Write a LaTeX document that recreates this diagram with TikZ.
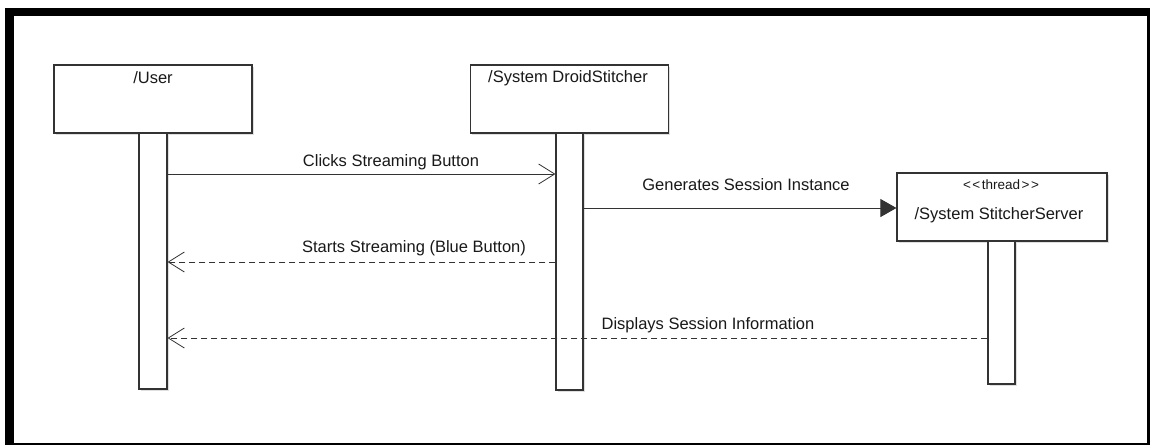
\documentclass[tikz,border=0pt]{standalone}
\usepackage{fontspec}
\setmainfont{Liberation Sans}
\usetikzlibrary{arrows.meta,shadows}
\definecolor{ink}{HTML}{333333}
\tikzset{
  umlbox/.style={draw=ink, line width=1.2pt, fill=white, inner sep=0pt,
    drop shadow={opacity=0.25, shadow xshift=1.5pt, shadow yshift=-1.5pt}},
  lbl/.style={inner sep=0pt, font=\fontsize{16.5}{19}\selectfont, text=black!90},
  small/.style={inner sep=0pt, font=\fontsize{13.5}{16}\selectfont, text=black!90},
  msg/.style={draw=ink, line width=1pt},
  reply/.style={msg, dash pattern=on 6pt off 4pt},
  openhead/.style={-{Straight Barb[length=16pt,width=20pt,line width=0.8pt]}},
  filledhead/.style={-{Triangle[length=16pt,width=18pt]}},
  frame/.style={fill=black, draw=none}
}
\begin{document}
\begin{tikzpicture}[x=1pt,y=-1pt]
\useasboundingbox (0,0) rectangle (1151,445);
\fill[white] (0,0) rectangle (1151,445);

% outer frame
\path[frame] (5,8) rectangle (1149.5,16);
\path[frame] (5,8) rectangle (14,445);
\path[frame] (1147,8) rectangle (1149.5,445);
\path[frame] (5,442.5) rectangle (1149.5,444.5);

% participants
\node[umlbox, minimum width=198pt, minimum height=68pt] (user) at (153,99) {};
\node[umlbox, minimum width=198pt, minimum height=68pt] (droid) at (569.5,99) {};
\node[umlbox, minimum width=210pt, minimum height=68pt] (server) at (1002,207) {};

\node[lbl] (userT) at (153,78) {/User};
\node[lbl] (droidT) at (568,78) {/System DroidStitcher};
\node[small] (serverS) at (1001,185) {<\kern1.5pt<\kern1.5pt thread\kern1.5pt>\kern1.5pt>};
\node[lbl] (serverT) at (999,215) {/System StitcherServer};

% activation bars
\node[umlbox, minimum width=28pt, minimum height=256pt] (ua) at (153,261) {};
\node[umlbox, minimum width=27pt, minimum height=257pt] (da) at (569.5,261.5) {};
\node[umlbox, minimum width=27pt, minimum height=143pt] (sa) at (1001.5,312.5) {};

% message rows
\coordinate (m1) at (0,174);
\coordinate (m2) at (0,208);
\coordinate (m3) at (0,262);
\coordinate (m4) at (0,338);

\draw[msg, openhead] (ua.east |- m1) -- (da.west |- m1);
\draw[msg, filledhead] (da.east |- m2) -- (server.west |- m2);
\draw[reply, openhead] (da.west |- m3) -- (ua.east |- m3);
\draw[reply, openhead] (sa.west |- m4) -- (ua.east |- m4);

% message labels
\node[lbl] (l1) at (391,162) {Clicks Streaming Button};
\node[lbl] (l2) at (746,185) {Generates Session Instance};
\node[lbl] (l3) at (414,248) {Starts Streaming (Blue Button)};
\node[lbl] (l4) at (708,325) {Displays Session Information};
\end{tikzpicture}
\end{document}
